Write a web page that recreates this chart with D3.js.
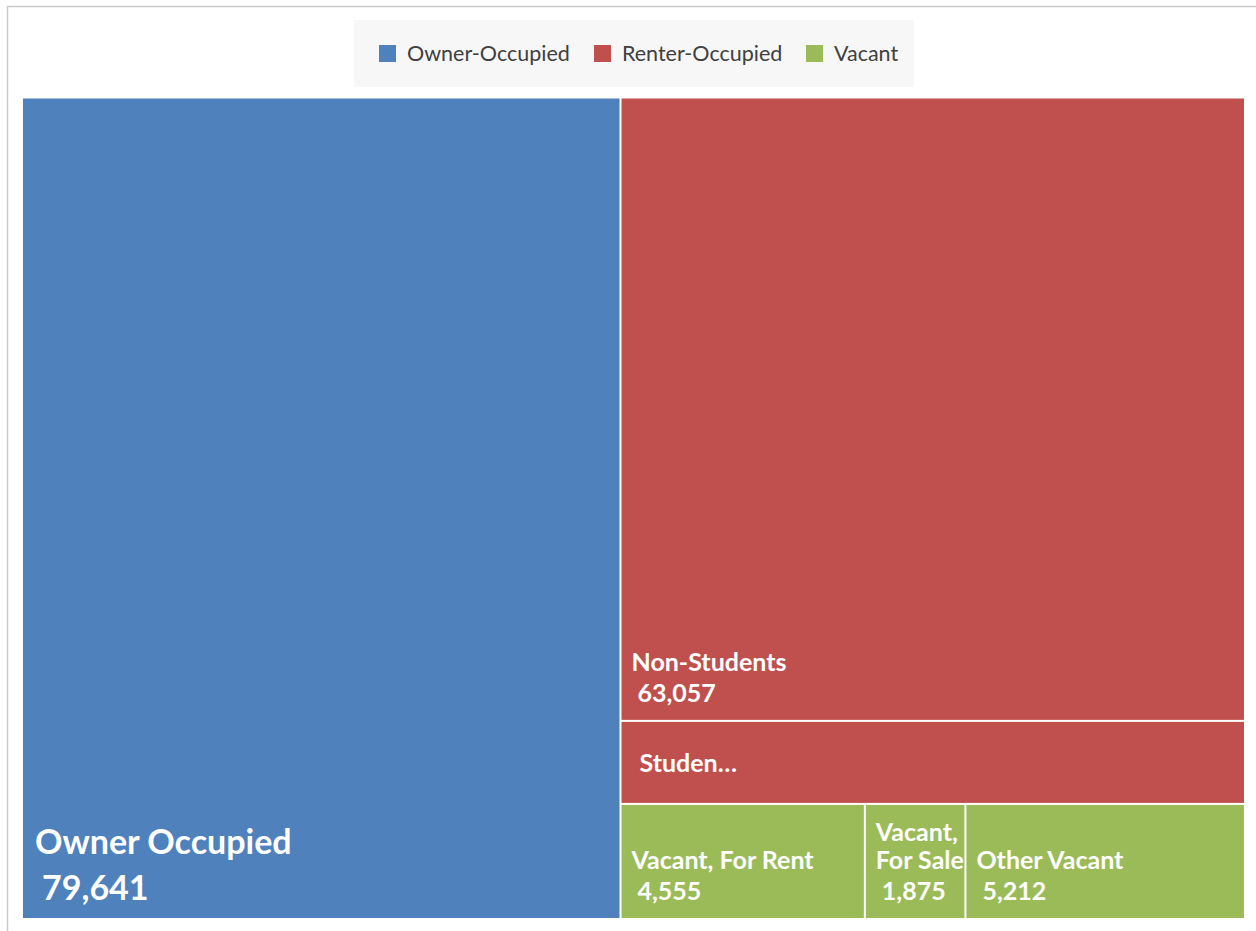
<!DOCTYPE html>
<html>
<head>
<meta charset="utf-8">
<script src="https://cdn.jsdelivr.net/npm/d3@7"></script>
<style>
  body { margin: 0; background: #fff; }
  svg { display: block; }
</style>
</head>
<body>
<svg id="chart"></svg>
<script>
// housing units by tenure
const groups = ["Owner-Occupied", "Renter-Occupied", "Vacant"];
const groupColors = ["#4F81BD", "#C0504D", "#9BBB59"];

const leafLabels = ["Owner Occupied", "Non-Students", "Studen…", "Vacant, For Rent", "Vacant, For Sale", "Other Vacant"];
const leafGroups = ["Owner-Occupied", "Renter-Occupied", "Renter-Occupied", "Vacant", "Vacant", "Vacant"];
const leafValues = [79641, 63057, 8400, 4555, 1875, 5212];

const W = 1256, H = 931;
const svg = d3.select("#chart").attr("width", W).attr("height", H);

// chart frame
svg.append("rect")
  .attr("x", 7.5).attr("y", 6.5)
  .attr("width", W + 20).attr("height", H + 20)
  .attr("fill", "#fff")
  .attr("stroke", "#c9c9c9")
  .attr("stroke-width", 1.5);

// legend
const legend = svg.append("g");
legend.append("rect")
  .attr("x", 354).attr("y", 20)
  .attr("width", 560).attr("height", 67)
  .attr("fill", "#f7f7f7");

const legendX = [379, 594, 806];
groups.forEach((g, i) => {
  const item = legend.append("g").attr("transform", "translate(" + legendX[i] + ",45)");
  item.append("rect")
    .attr("width", 17).attr("height", 17)
    .attr("fill", groupColors[i]);
  item.append("text")
    .attr("x", 28).attr("y", 16)
    .attr("font-family", "Lato, sans-serif")
    .attr("font-size", 21.5)
    .attr("fill", "#404040")
    .text(g);
});

// hierarchy
const color = d3.scaleOrdinal().domain(groups).range(groupColors);
const data = {
  name: "root",
  children: groups.map(g => ({
    name: g,
    children: leafLabels
      .map((l, i) => ({ name: l, group: leafGroups[i], value: leafValues[i] }))
      .filter(d => d.group == g)
  }))
};

const root = d3.hierarchy(data).sum(d => d.value || 0);

const plotX = 23, plotY = 98.5;
d3.treemap()
  .tile(d3.treemapSquarify.ratio(1))
  .size([1221, 819.5])
  .paddingInner(2)
  .round(false)(root);

const plot = svg.append("g").attr("transform", "translate(" + plotX + "," + plotY + ")");

const cells = plot.selectAll("g.cell")
  .data(root.leaves())
  .enter()
  .append("g")
  .attr("class", "cell");

cells.append("rect")
  .attr("x", d => d.x0).attr("y", d => d.y0)
  .attr("width", d => d.x1 - d.x0)
  .attr("height", d => d.y1 - d.y0)
  .attr("fill", d => color(d.data.group));

const fmt = d3.format(",");

cells.each(function (d) {
  const g = d3.select(this);
  const w = d.x1 - d.x0, h = d.y1 - d.y0;
  const big = w * h > 450000;
  const fs = big ? 34 : 25;
  const lh = big ? 46 : 31;
  const nameOff = big ? 12 : 10;
  const valOff = big ? 19 : 16;
  const showValue = h > 90;

  const txt = g.append("text")
    .attr("font-family", "Lato, sans-serif")
    .attr("font-weight", "bold")
    .attr("font-size", fs)
    .attr("fill", "#fff");

  // wrap name into lines that fit the cell
  const words = d.data.name.split(" ");
  const lines = [];
  let cur = "";
  const probe = txt.append("tspan");
  words.forEach(wd => {
    const test = cur ? cur + " " + wd : wd;
    probe.text(test);
    if (cur && probe.node().getComputedTextLength() > w - 6) {
      lines.push(cur);
      cur = wd;
    } else {
      cur = test;
    }
  });
  lines.push(cur);
  probe.remove();

  const valueBase = d.y1 - 18;
  const nameBase = showValue ? valueBase - lh : d.y1 - 31;
  lines.forEach((ln, i) => {
    txt.append("tspan")
      .attr("x", d.x0 + (showValue ? nameOff : 18))
      .attr("y", nameBase - (lines.length - 1 - i) * 28)
      .text(ln);
  });
  if (showValue) {
    txt.append("tspan")
      .attr("x", d.x0 + valOff)
      .attr("y", valueBase)
      .text(fmt(d.value));
  }
});
</script>
</body>
</html>
